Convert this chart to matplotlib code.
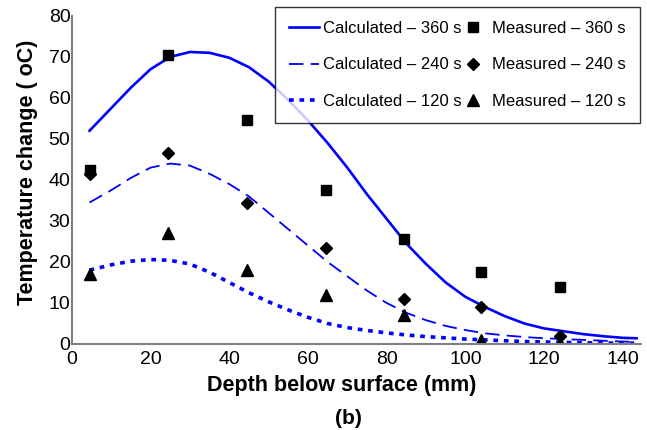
import matplotlib.pyplot as plt

plt.rcParams['font.family'] = ['Liberation Sans', 'DejaVu Sans']

# measured points
depth_meas = [4.5, 24.5, 44.5, 64.5, 84.5, 104, 124]
meas_360 = [42.5, 70.5, 54.5, 37.5, 25.5, 17.5, 13.8]
meas_240 = [41.5, 46.5, 34.5, 23.5, 11, 9, 2]
meas_120 = [17, 27, 18, 12, 7, 1, 0.3]

# calculated curves
depth_calc = [4.5, 10, 15, 20, 25, 30, 35, 40, 45, 50, 55, 60, 65, 70, 75, 80,
              85, 90, 95, 100, 105, 110, 115, 120, 125, 130, 135, 140, 143.5]
calc_360 = [52, 57.5, 62.5, 67, 70, 71.2, 71, 69.8, 67.5, 64, 59.5, 54.5, 49, 43, 36.5, 30.5,
            24.5, 19.5, 15, 11.5, 9, 6.8, 5, 3.8, 3.1, 2.4, 1.9, 1.5, 1.4]
calc_240 = [34.5, 37.5, 40.5, 43, 44, 43.5, 41.5, 39, 36, 32, 28, 24, 20, 16.5, 13, 10,
            7.6, 5.8, 4.4, 3.4, 2.6, 2.1, 1.7, 1.4, 1.2, 1.0, 0.8, 0.6, 0.5]
calc_120 = [18, 19.3, 20.2, 20.6, 20.4, 19.5, 17.5, 15, 12.5, 10.3, 8.3, 6.5, 5, 4, 3.3, 2.7,
            2.2, 1.8, 1.5, 1.2, 1.0, 0.8, 0.6, 0.5, 0.4, 0.3, 0.25, 0.2, 0.2]

fig = plt.figure(figsize=(6.47, 4.3), dpi=100)
ax = fig.add_axes([0.111, 0.2, 0.879, 0.763])

blue = '#0000ff'
ax.plot(depth_calc, calc_360, color=blue, lw=1.9, label='Calculated \u2013 360 s')
ax.plot(depth_calc, calc_240, color=blue, lw=1.3, dashes=(8, 4), label='Calculated \u2013 240 s')
ax.plot(depth_calc, calc_120, color=blue, lw=2.6, dashes=(1.3, 1.6), label='Calculated \u2013 120 s')

ax.plot(depth_meas, meas_360, 's', color='black', ms=7, ls='none', label='Measured \u2013 360 s')
ax.plot(depth_meas, meas_240, 'D', color='black', ms=6.5, ls='none', label='Measured \u2013 240 s')
ax.plot(depth_meas, meas_120, '^', color='black', ms=8, ls='none', label='Measured \u2013 120 s')

ax.set_xlim(0, 144.5)
ax.set_ylim(0, 80)
ax.set_xticks(range(0, 141, 20))
ax.set_yticks(range(0, 81, 10))
ax.tick_params(labelsize=14, length=0)
ax.tick_params(axis='x', pad=5)
ax.tick_params(axis='y', pad=1)

for s in ['top', 'right']:
    ax.spines[s].set_visible(False)
for s in ['left', 'bottom']:
    ax.spines[s].set_color('gray')
    ax.spines[s].set_linewidth(1.5)

ax.set_xlabel('Depth below surface (mm)', fontsize=15.5, fontweight='bold')
ax.set_ylabel('Temperature change ( oC)', fontsize=15.5, fontweight='bold')
ax.xaxis.set_label_coords(0.475, -0.095)
ax.yaxis.set_label_coords(-0.06, 0.524)

leg = ax.legend(ncol=2, loc='upper left', bbox_to_anchor=(0.425, 0.984),
                bbox_transform=fig.transFigure, fontsize=12, frameon=True,
                fancybox=False, edgecolor='black', handlelength=1.8,
                handletextpad=0.25, columnspacing=-0.25, labelspacing=1.28,
                borderpad=0.85, borderaxespad=0)
leg.get_frame().set_linewidth(1)

fig.text(0.538, 0.027, '(b)', fontsize=15, fontweight='bold', ha='center', va='center')

fig.savefig('out.png', dpi=100)
